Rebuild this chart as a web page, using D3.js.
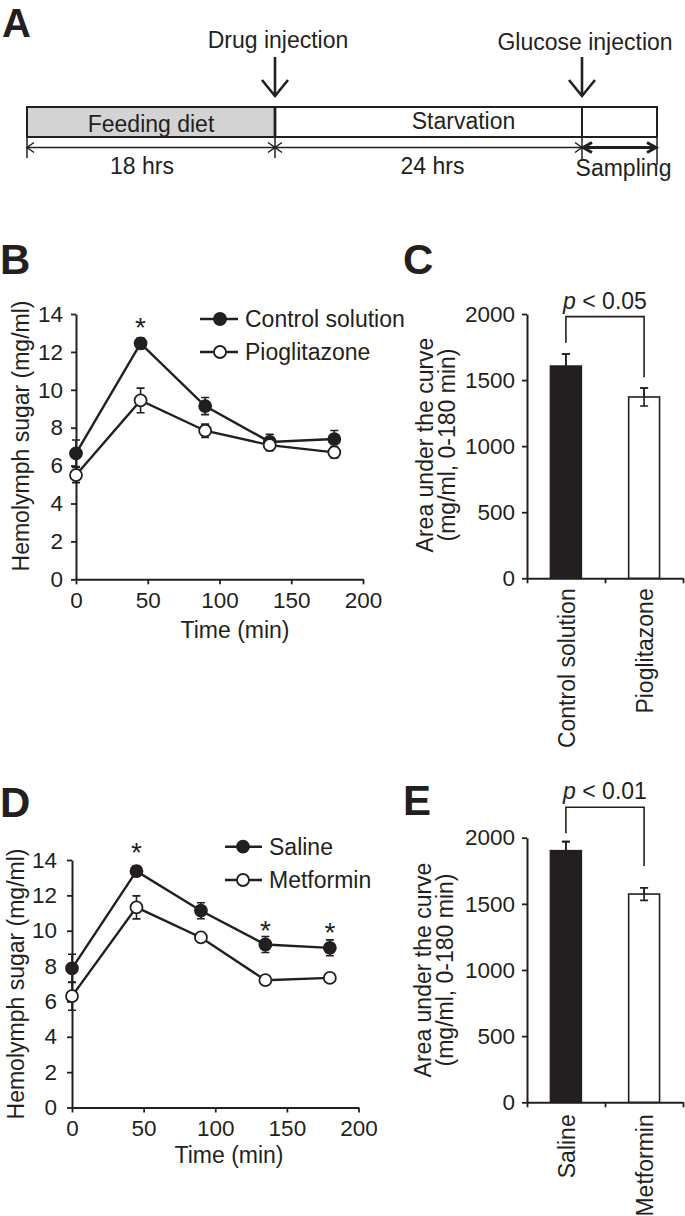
<!DOCTYPE html>
<html><head><meta charset="utf-8">
<script src="https://cdn.jsdelivr.net/npm/d3@7"></script>
<style>
body{margin:0;background:#fff;}
svg text{font-family:"Liberation Sans",Arial,Helvetica,sans-serif;fill:#231f20;}
</style>
</head><body>
<svg id="fig" width="685" height="1216"></svg>
<script>
// ---------------- DATA ----------------
const times = [0, 45, 90, 135, 180];
const timeTicks = [0, 50, 100, 150, 200];
const sugarTicks = [0, 2, 4, 6, 8, 10, 12, 14];
const aucTicks = [0, 500, 1000, 1500, 2000];

// Panel B
const controlMean = [6.65, 12.45, 9.14, 7.25, 7.4];
const controlErr  = [0.7, 0.3, 0.45, 0.4, 0.45];
const pioMean     = [5.5, 9.44, 7.84, 7.08, 6.7];
const pioErr      = [0.4, 0.65, 0.35, 0.3, 0.3];
const starsB      = [[45, 13.02]];

// Panel D
const salineMean  = [7.87, 13.37, 11.13, 9.22, 9.03];
const salineErr   = [0.8, 0.3, 0.45, 0.45, 0.45];
const metMean     = [6.3, 11.32, 9.62, 7.2, 7.33];
const metErr      = [0.8, 0.65, 0.2, 0.15, 0.15];
const starsD      = [[45, 14.14], [135, 9.75], [180, 9.61]];

// Panel C
const aucCatsC = ["Control solution", "Pioglitazone"];
const aucMeanC = [1606, 1372];
const aucErrC  = [90, 68];
const bracketC = [1783, 1980, 1521]; // left drop, top, right drop
const pValueC  = "0.05";

// Panel E
const aucCatsE = ["Saline", "Metformin"];
const aucMeanE = [1902, 1574];
const aucErrE  = [68, 48];
const bracketE = [2033, 2230, 1786];
const pValueE  = "0.01";

// Panel A (schematic)
const phaseHours     = [0, 18, 42, 45];
const phaseLabels    = ["Feeding diet", "Starvation", ""];
const durationLabels = ["18 hrs", "24 hrs", "Sampling"];
const eventLabels    = ["Drug injection", "Glucose injection"];
const eventHours     = [18, 42];

// ---------------- DRAWING ----------------
const INK = "#231f20";
const svg = d3.select("#fig");
const FS = 23;
const TFS = 22.5;

function letter(txt, x, y, size) {
  svg.append("text").attr("x", x).attr("y", y).text(txt)
    .style("font-size", (size || 42) + "px").style("font-weight", "bold");
}

function styleAxis(g) {
  g.attr("font-size", null).attr("font-family", null);
  g.select(".domain").attr("stroke", INK).attr("stroke-width", 2);
  g.selectAll(".tick line").attr("stroke", INK).attr("stroke-width", 1.8);
  g.selectAll(".tick text").style("font-size", TFS + "px").attr("fill", INK);
}

// ---------- Panel A ----------
(function () {
  const tx = d3.scaleLinear().domain(phaseHours).range([27, 275, 582, 657]);
  const g = svg.append("g");
  const top = 107, bot = 137, dimY = 147.5;
  for (let i = 0; i < 3; i++) {
    g.append("rect").attr("x", tx(phaseHours[i])).attr("y", top)
      .attr("width", tx(phaseHours[i + 1]) - tx(phaseHours[i])).attr("height", bot - top)
      .attr("fill", i === 0 ? "#d3d3d3" : "#fff").attr("stroke", INK).attr("stroke-width", 2);
  }
  g.append("line").attr("x1", tx(18)).attr("x2", tx(18)).attr("y1", top).attr("y2", bot)
    .attr("stroke", INK).attr("stroke-width", 2.8);
  const phaseOff = [0, 35, 0];
  phaseLabels.forEach((l, i) => {
    g.append("text").attr("x", (tx(phaseHours[i]) + tx(phaseHours[i + 1])) / 2 + phaseOff[i])
      .attr("y", i === 0 ? 131.5 : 129).attr("text-anchor", "middle").style("font-size", FS + "px").text(l);
  });
  g.append("line").attr("x1", tx(0)).attr("x2", tx(42)).attr("y1", dimY).attr("y2", dimY)
    .attr("stroke", INK).attr("stroke-width", 1.5);
  const tickEnds = [158, 158, 160, 165];
  phaseHours.forEach((h, i) => {
    g.append("line").attr("x1", tx(h)).attr("x2", tx(h)).attr("y1", bot).attr("y2", tickEnds[i])
      .attr("stroke", INK).attr("stroke-width", 1.5);
  });
  function chevron(x, dir, w, sw) {
    g.append("path").attr("d", `M${x + dir * w},${dimY - 5} L${x},${dimY} L${x + dir * w},${dimY + 5}`)
      .attr("fill", "none").attr("stroke", INK).attr("stroke-width", sw);
  }
  chevron(tx(0), 1, 7, 1.5);
  chevron(tx(18), -1, 7, 1.5);
  chevron(tx(18), 1, 7, 1.5);
  chevron(tx(42), -1, 7, 1.5);
  g.append("line").attr("x1", tx(42) + 2).attr("x2", tx(45) - 2).attr("y1", dimY).attr("y2", dimY)
    .attr("stroke", INK).attr("stroke-width", 3.2);
  chevron(tx(42) + 1, 1, 9, 3);
  chevron(tx(45) - 1, -1, 9, 3);
  const durOff = [-9, 4, 4];
  const durY = [174, 174, 176];
  durationLabels.forEach((l, i) => {
    g.append("text").attr("x", (tx(phaseHours[i]) + tx(phaseHours[i + 1])) / 2 + durOff[i])
      .attr("y", durY[i]).attr("text-anchor", "middle").style("font-size", FS + "px").text(l);
  });
  const evY = [48, 50];
  eventHours.forEach((h, i) => {
    const x = tx(h);
    g.append("line").attr("x1", x).attr("x2", x).attr("y1", 57).attr("y2", 96)
      .attr("stroke", INK).attr("stroke-width", 2.6);
    g.append("path").attr("d", `M${x - 13},${80} L${x},${96} L${x + 13},${80}`)
      .attr("fill", "none").attr("stroke", INK).attr("stroke-width", 2.6);
    g.append("text").attr("x", x + 3).attr("y", evY[i]).attr("text-anchor", "middle")
      .style("font-size", FS + "px").text(eventLabels[i]);
  });
})();
letter("A", 2, 37, 40);

// ---------- Line charts ----------
function lineChart(cfg) {
  const g = svg.append("g");
  const x = d3.scaleLinear().domain([0, 200]).range([cfg.x0, cfg.x1]);
  const y = d3.scaleLinear().domain([0, 14]).range([cfg.y0, cfg.y1]);
  const ax = g.append("g").attr("transform", `translate(0,${cfg.y0})`)
    .call(d3.axisBottom(x).tickValues(timeTicks).tickSize(5).tickSizeOuter(0).tickPadding(8));
  styleAxis(ax);
  const ay = g.append("g").attr("transform", `translate(${cfg.x0},0)`)
    .call(d3.axisLeft(y).tickValues(sugarTicks).tickSize(5).tickSizeOuter(0).tickPadding(cfg.yPad));
  styleAxis(ay);
  g.append("text").attr("x", cfg.titleX).attr("y", cfg.titleY).attr("text-anchor", "middle")
    .style("font-size", FS + "px").text("Time (min)");
  g.append("text").attr("transform", `translate(${cfg.ylabX},${cfg.ylabY}) rotate(-90)`)
    .attr("text-anchor", "middle").style("font-size", FS + "px").text("Hemolymph sugar (mg/ml)");

  const line = d3.line().x(d => x(d[0])).y(d => y(d[1]));
  cfg.series.forEach(s => {
    const pts = times.map((t, i) => [t, s.mean[i], s.err[i]]);
    pts.forEach(p => {
      const cx = x(p[0]);
      g.append("path").attr("d",
        `M${cx},${y(p[1] - p[2])}V${y(p[1] + p[2])}M${cx - 4},${y(p[1] + p[2])}H${cx + 4}M${cx - 4},${y(p[1] - p[2])}H${cx + 4}`)
        .attr("stroke", INK).attr("stroke-width", 1.6).attr("fill", "none");
    });
    g.append("path").datum(pts).attr("d", line).attr("fill", "none")
      .attr("stroke", INK).attr("stroke-width", 2.4);
  });
  cfg.series.forEach(s => {
    times.forEach((t, i) => {
      g.append("circle").attr("cx", x(t)).attr("cy", y(s.mean[i])).attr("r", 6)
        .attr("fill", s.filled ? INK : "#fff").attr("stroke", INK).attr("stroke-width", 1.8);
    });
  });
  cfg.stars.forEach(st => {
    g.append("text").attr("x", x(st[0])).attr("y", y(st[1])).attr("dy", 4.5).attr("text-anchor", "middle")
      .style("font-size", "28px").text("*");
  });
  cfg.series.forEach((s, i) => {
    const ly = cfg.legY[i];
    g.append("line").attr("x1", cfg.legX - cfg.legL).attr("x2", cfg.legX + cfg.legR)
      .attr("y1", ly).attr("y2", ly).attr("stroke", INK).attr("stroke-width", 2.4);
    g.append("circle").attr("cx", cfg.legX).attr("cy", ly).attr("r", 6)
      .attr("fill", s.filled ? INK : "#fff").attr("stroke", INK).attr("stroke-width", 1.8);
    g.append("text").attr("x", cfg.legX + cfg.legT).attr("y", ly + 8)
      .style("font-size", FS + "px").text(s.name);
  });
}

lineChart({
  x0: 76, x1: 363, y0: 579.3, y1: 314, yPad: 8,
  titleX: 235, titleY: 637.5, ylabX: 28.5, ylabY: 436,
  series: [
    { name: "Control solution", mean: controlMean, err: controlErr, filled: true },
    { name: "Pioglitazone", mean: pioMean, err: pioErr, filled: false }
  ],
  stars: starsB, legX: 220, legL: 20, legR: 18, legT: 25, legY: [319, 352]
});
letter("B", 0, 274);

lineChart({
  x0: 72, x1: 358.5, y0: 1107.5, y1: 860, yPad: 10,
  titleX: 229, titleY: 1163, ylabX: 24, ylabY: 984,
  series: [
    { name: "Saline", mean: salineMean, err: salineErr, filled: true },
    { name: "Metformin", mean: metMean, err: metErr, filled: false }
  ],
  stars: starsD, legX: 243, legL: 18, legR: 19, legT: 26, legY: [846.7, 880]
});
letter("D", 0, 817);

// ---------- Bar charts ----------
function barChart(cfg) {
  const g = svg.append("g");
  const y = d3.scaleLinear().domain([0, 2000]).range([cfg.y0, cfg.y1]);
  const xb = d3.scaleBand().domain(cfg.cats).range([527, 683]).paddingInner(0.605).paddingOuter(0.3);
  const xt = d3.scaleLinear().domain([0, 2]).range([527, 683]);
  const ax = g.append("g").attr("transform", `translate(0,${cfg.y0})`)
    .call(d3.axisBottom(xt).tickValues([0, 1, 2]).tickSize(5).tickSizeOuter(0).tickFormat(""));
  styleAxis(ax);
  const ay = g.append("g").attr("transform", `translate(527,0)`)
    .call(d3.axisLeft(y).tickValues(aucTicks).tickFormat(d3.format("d")).tickSize(5).tickSizeOuter(0).tickPadding(7));
  styleAxis(ay);
  cfg.cats.forEach((c, i) => {
    const x0 = xb(c), w = xb.bandwidth(), cx = x0 + w / 2;
    const m = cfg.mean[i], e = cfg.err[i];
    g.append("path").attr("d",
      `M${cx},${y(m - e)}V${y(m + e)}M${cx - 4},${y(m + e)}H${cx + 4}M${cx - 4},${y(m - e)}H${cx + 4}`)
      .attr("stroke", INK).attr("stroke-width", 1.6).attr("fill", "none");
    g.append("rect").attr("x", x0).attr("y", y(m)).attr("width", w).attr("height", cfg.y0 - y(m))
      .attr("fill", i === 0 ? INK : "#fff").attr("stroke", INK).attr("stroke-width", 1.6);
    g.append("path").attr("d", `M${cx},${y(m)}V${y(m + e)}M${cx - 4},${y(m + e)}H${cx + 4}`)
      .attr("stroke", INK).attr("stroke-width", 1.6);
    if (i === 1) {
      g.append("path").attr("d", `M${cx},${y(m)}V${y(m - e)}M${cx - 4},${y(m - e)}H${cx + 4}`)
        .attr("stroke", INK).attr("stroke-width", 1.6);
    }
    g.append("text").attr("transform", `translate(${cx + 9},${cfg.y0 + cfg.catGap}) rotate(-90)`)
      .attr("text-anchor", "end").style("font-size", FS + "px").text(c);
  });
  const lx = xb(cfg.cats[0]) + xb.bandwidth() / 2, rx = xb(cfg.cats[1]) + xb.bandwidth() / 2;
  const b = cfg.bracket;
  g.append("path").attr("d", `M${lx},${y(b[0])}V${y(b[1])}H${rx}V${y(b[2])}`)
    .attr("fill", "none").attr("stroke", INK).attr("stroke-width", 1.6);
  const pt = g.append("text").attr("x", 605).attr("y", y(b[1]) - 8).attr("text-anchor", "middle")
    .style("font-size", FS + "px");
  pt.append("tspan").style("font-style", "italic").text("p");
  pt.append("tspan").text(" < " + cfg.p);
  const yl = g.append("text").attr("transform", `translate(0,${cfg.ylabY}) rotate(-90)`)
    .attr("text-anchor", "middle").style("font-size", FS + "px");
  yl.append("tspan").attr("x", 0).attr("y", cfg.ylab1).text("Area under the curve");
  yl.append("tspan").attr("x", 0).attr("y", cfg.ylab2).text("(mg/ml, 0-180 min)");
}

barChart({
  y0: 578.3, y1: 314, cats: aucCatsC, mean: aucMeanC, err: aucErrC,
  bracket: bracketC, p: pValueC, catGap: 10, ylabY: 445, ylab1: 433, ylab2: 455
});
letter("C", 403, 274);

barChart({
  y0: 1102.3, y1: 837.7, cats: aucCatsE, mean: aucMeanE, err: aucErrE,
  bracket: bracketE, p: pValueE, catGap: 12, ylabY: 970, ylab1: 431, ylab2: 453
});
letter("E", 403, 815);
</script>
</body></html>
